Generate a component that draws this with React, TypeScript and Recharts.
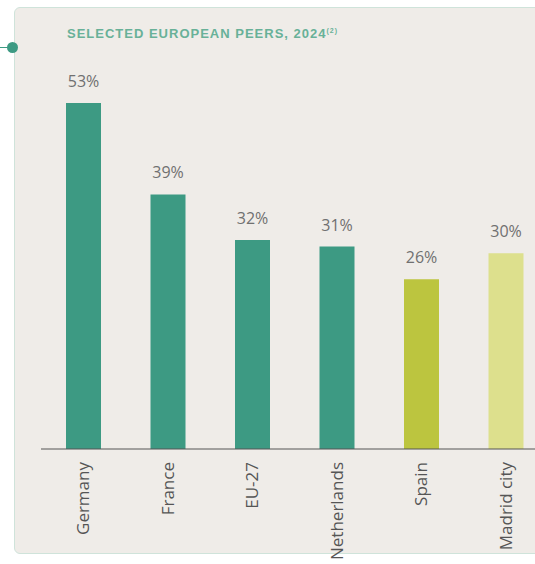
import React from "react";
import { BarChart, Bar, XAxis, YAxis, LabelList, Cell } from "recharts";

const categories = ["Germany", "France", "EU-27", "Netherlands", "Spain", "Madrid city"];
const values = [53, 39, 32, 31, 26, 30];
const barColors = ["#3d9a83", "#3d9a83", "#3d9a83", "#3d9a83", "#bcc53f", "#dde08d"];

const data = categories.map((name, i) => ({ name, value: values[i] }));

const Tick = (props: any) => {
  const { x, payload } = props;
  const ty = 462;
  return (
    <text
      x={x}
      y={ty}
      transform={`rotate(-90, ${x}, ${ty})`}
      textAnchor="end"
      dy="0.36em"
      fill="#555555"
      fontSize={17}
      fontFamily="'Open Sans', sans-serif"
    >
      {payload.value}
    </text>
  );
};

export default function App() {
  return (
    <div style={{ position: "absolute", left: 0, top: 0, width: 535, height: 564, overflow: "hidden", background: "#ffffff" }}>
      <div
        style={{
          position: "absolute",
          left: 14,
          top: 7,
          width: 560,
          height: 545,
          border: "1.5px solid #cfe3da",
          borderRadius: 6,
          background: "#efece8",
        }}
      />
      <div style={{ position: "absolute", left: 0, top: 47, width: 10, height: 1, background: "#3d9a83" }} />
      <div style={{ position: "absolute", left: 7, top: 42, width: 11, height: 11, borderRadius: "50%", background: "#3d9a83" }} />
      <div
        style={{
          position: "absolute",
          left: 67,
          top: 26,
          fontFamily: "'Liberation Sans', Arial, sans-serif",
          fontWeight: 700,
          fontSize: 13,
          letterSpacing: 1,
          color: "#68b198",
          whiteSpace: "nowrap",
        }}
      >
        SELECTED EUROPEAN PEERS, 2024<sup style={{ fontSize: 7 }}>(2)</sup>
      </div>
      <div style={{ position: "absolute", left: 0, top: 0 }}>
        <BarChart width={548} height={564} data={data} margin={{ top: 103, right: 0, left: 41, bottom: 0 }}>
          <YAxis hide domain={[0, 53]} />
          <XAxis
            dataKey="name"
            height={115}
            interval={0}
            tickLine={false}
            axisLine={{ stroke: "#555555", strokeWidth: 1 }}
            tick={<Tick />}
          />
          <Bar dataKey="value" barSize={35} isAnimationActive={false}>
            {data.map((d, i) => (
              <Cell key={d.name} fill={barColors[i]} />
            ))}
            <LabelList
              dataKey="value"
              position="top"
              offset={16}
              formatter={(v: any) => `${v}%`}
              fill="#707070"
              fontSize={16}
              fontFamily="'Open Sans', sans-serif"
            />
          </Bar>
        </BarChart>
      </div>
    </div>
  );
}
